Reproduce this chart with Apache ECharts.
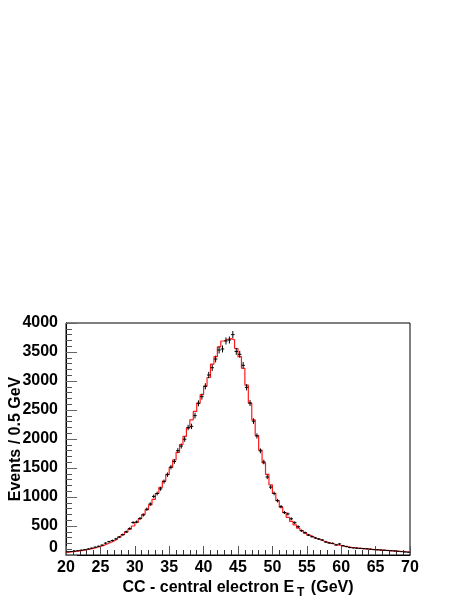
<!DOCTYPE html>
<html>
<head>
<meta charset="utf-8">
<script src="https://cdn.jsdelivr.net/npm/echarts@6/dist/echarts.min.js"></script>
<style>
  html, body { margin: 0; padding: 0; background: #fff; }
  #chart { width: 463px; height: 599px; }
</style>
</head>
<body>
<div id="chart"></div>
<script>
// histogram binning: 100 bins of 0.5 GeV from 20 to 70
const binStart = 20
const binWidth = 0.5

// data (black points), events per bin
const dataCounts = [
  55, 60, 68, 75, 83, 92, 104, 118, 135, 150,
  170, 205, 230, 250, 278, 310, 350, 400, 455, 560,
  570, 630, 690, 790, 880, 1010, 1060, 1140, 1265, 1385,
  1515, 1612, 1799, 1879, 1997, 2198, 2218, 2403, 2615, 2730,
  2908, 3103, 3229, 3379, 3534, 3552, 3690, 3707, 3800, 3510,
  3460, 3270, 2891, 2620, 2308, 2052, 1796, 1604, 1345, 1170,
  1063, 937, 833, 733, 707, 624, 557, 488, 419, 385,
  345, 316, 293, 276, 259, 224, 207, 201, 172, 190,
  160, 145, 128, 122, 118, 114, 110, 108, 100, 93,
  90, 86, 82, 78, 74, 70, 64, 58, 52, 48
]

// simulation (red histogram), events per bin
const mcCounts = [
  50, 57, 64, 72, 80, 90, 101, 114, 129, 146,
  166, 190, 215, 243, 275, 310, 350, 395, 445, 500,
  560, 625, 700, 780, 865, 960, 1060, 1165, 1275, 1390,
  1510, 1640, 1770, 1905, 2045, 2185, 2330, 2475, 2620, 2765,
  2910, 3060, 3290, 3420, 3590, 3690, 3720, 3730, 3710, 3560,
  3420, 3220, 2930, 2620, 2330, 2060, 1810, 1590, 1390, 1210,
  1060, 935, 825, 730, 650, 580, 520, 465, 418, 378,
  342, 312, 285, 262, 241, 222, 205, 190, 176, 164,
  153, 143, 134, 126, 119, 113, 107, 102, 97, 92,
  88, 84, 80, 76, 72, 68, 64, 60, 56, 52
]

const xTicks = { min: 20, max: 70, interval: 5 }
const yTicks = { min: 0, max: 4000, interval: 500 }

// step line through the lower bin edges, closed at the last upper edge
const mcStep = mcCounts.map((v, i) => [binStart + i * binWidth, v])
mcStep.push([binStart + mcCounts.length * binWidth, mcCounts[mcCounts.length - 1]])

// points at bin centres with sqrt(N) errors
const dataPoints = dataCounts.map((v, i) => [binStart + (i + 0.5) * binWidth, v, Math.sqrt(v)])

const font = 'Liberation Sans, Arial, Helvetica, sans-serif'

const chart = echarts.init(document.getElementById('chart'), null, { renderer: 'canvas' })

chart.setOption({
  animation: false,
  backgroundColor: '#fff',
  grid: {
    left: 66, right: 53, top: 323, bottom: 44,
    containLabel: false,
    outerBoundsMode: 'none',
    show: true, borderColor: '#000', borderWidth: 1, backgroundColor: 'transparent'
  },
  xAxis: {
    type: 'value',
    min: xTicks.min, max: xTicks.max, interval: xTicks.interval,
    name: 'CC - central electron E{sub|T} (GeV)',
    nameLocation: 'middle',
    nameGap: 22,
    nameMoveOverlap: false,
    nameTextStyle: {
      fontFamily: font, fontWeight: 'bold', fontSize: 16, color: '#000',
      rich: {
        sub: { fontFamily: font, fontWeight: 'bold', fontSize: 12, color: '#000', padding: [10, 2, 0, 3] }
      }
    },
    axisLine: { lineStyle: { color: '#000', width: 1 } },
    axisTick: { inside: true, length: 9, lineStyle: { color: '#555' } },
    minorTick: { show: true, splitNumber: 5, length: 5, lineStyle: { color: '#333' } },
    splitLine: { show: false },
    axisLabel: { margin: 5, fontFamily: font, fontWeight: 'bold', fontSize: 16, color: '#000' }
  },
  yAxis: {
    type: 'value',
    min: yTicks.min, max: yTicks.max, interval: yTicks.interval,
    name: 'Events / 0.5 GeV',
    nameLocation: 'middle',
    nameGap: 42,
    nameMoveOverlap: false,
    nameTextStyle: { fontFamily: font, fontWeight: 'bold', fontSize: 16, color: '#000' },
    axisLine: { show: true, lineStyle: { color: '#000', width: 1 } },
    axisTick: { show: true, inside: true, length: 11, lineStyle: { color: '#666' } },
    minorTick: { show: true, splitNumber: 5, length: 6, lineStyle: { color: '#555' } },
    splitLine: { show: false },
    axisLabel: {
      margin: 8, fontFamily: font, fontWeight: 'bold', fontSize: 16, color: '#000',
      formatter: v => (v === 0 ? '{z|0}' : String(v)),
      rich: { z: { fontFamily: font, fontWeight: 'bold', fontSize: 16, color: '#000', padding: [0, 0, 14, 0] } }
    }
  },
  series: [
    {
      name: 'MC',
      type: 'line',
      step: 'end',
      data: mcStep,
      symbol: 'none',
      lineStyle: { color: '#ff1a1a', width: 1.2 },
      z: 2
    },
    {
      name: 'Data',
      type: 'custom',
      data: dataPoints,
      z: 3,
      renderItem: (params, api) => {
        const x = api.value(0)
        const y = api.value(1)
        const e = api.value(2)
        const top = api.coord([x, y + e])
        const bot = api.coord([x, y - e])
        const left = api.coord([x - binWidth / 2, y])
        const right = api.coord([x + binWidth / 2, y])
        const style = { stroke: '#000', lineWidth: 1 }
        return {
          type: 'group',
          children: [
            { type: 'line', shape: { x1: top[0], y1: top[1], x2: bot[0], y2: bot[1] }, style },
            { type: 'line', shape: { x1: left[0], y1: left[1], x2: right[0], y2: right[1] }, style }
          ]
        }
      }
    }
  ]
})
</script>
</body>
</html>
